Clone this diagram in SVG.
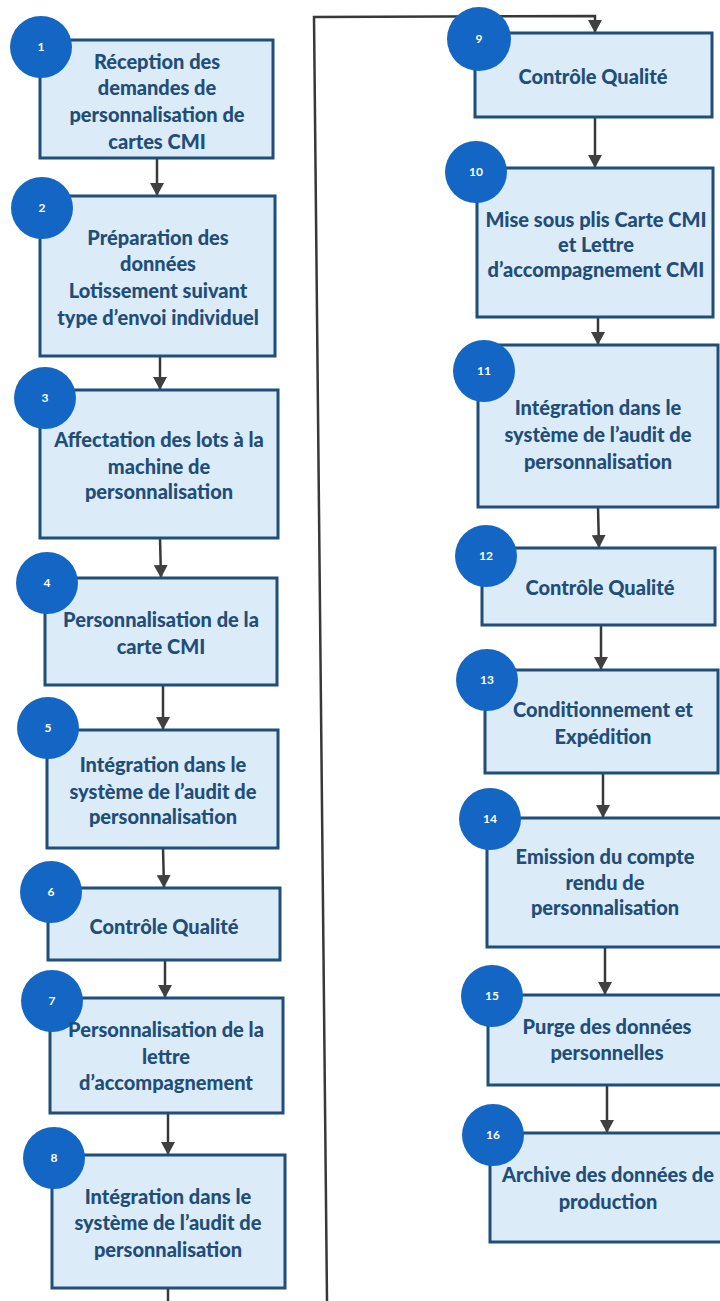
<svg xmlns="http://www.w3.org/2000/svg" width="720" height="1301" viewBox="0 0 720 1301">
<defs>
<marker id="ah" markerUnits="userSpaceOnUse" markerWidth="14" markerHeight="14" refX="13" refY="7" orient="auto" viewBox="0 0 14 14">
<path d="M0,0 L13,7 L0,14 Z" fill="#404040"/>
</marker>
</defs>
<style>
.box{fill:#dcebf8;stroke:#1f4e79;stroke-width:3}
.num{fill:#1366c4}
.nt{fill:#ffffff;font-family:Lato,"Open Sans",sans-serif;font-weight:bold;font-size:12px;text-anchor:middle}
.t{fill:#1f4e79;font-family:Lato,"Open Sans",sans-serif;font-weight:900;font-size:20px;text-anchor:middle}
.c{fill:none;stroke:#383838;stroke-width:2.5}
.ca{fill:none;stroke:#383838;stroke-width:2.5;marker-end:url(#ah)}
</style>
<rect width="720" height="1301" fill="#ffffff"/>
<g id="connectors">
<line class="ca" x1="157" y1="158" x2="157" y2="196"/>
<line class="ca" x1="160" y1="356" x2="160" y2="390"/>
<line class="ca" x1="160" y1="538" x2="161" y2="578"/>
<line class="ca" x1="163" y1="685" x2="163" y2="730"/>
<line class="ca" x1="163" y1="848" x2="164" y2="888"/>
<line class="ca" x1="165" y1="960" x2="165" y2="998"/>
<line class="ca" x1="168" y1="1113" x2="168" y2="1155"/>
<line class="c" x1="168" y1="1288" x2="168" y2="1301"/>
<polyline class="ca" points="327,1301 314,17 595,16 595,33"/>
<line class="ca" x1="595" y1="117" x2="595" y2="168"/>
<line class="ca" x1="598" y1="317" x2="598" y2="345"/>
<line class="ca" x1="598" y1="507" x2="599" y2="548"/>
<line class="ca" x1="601" y1="625" x2="601" y2="670"/>
<line class="ca" x1="603" y1="773" x2="603" y2="818"/>
<line class="ca" x1="605" y1="947" x2="605" y2="995"/>
<line class="ca" x1="607" y1="1085" x2="607" y2="1133"/>
</g>
<g id="n1">
<rect class="box" x="40" y="40" width="233" height="118"/>
<circle class="num" cx="41" cy="47" r="31"/>
<text class="nt" x="41" y="51">1</text>
<text class="t" x="157" y="69">Réception des</text>
<text class="t" x="157" y="95">demandes de</text>
<text class="t" x="157" y="122">personnalisation de</text>
<text class="t" x="157" y="149">cartes CMI</text>
</g>
<g id="n2">
<rect class="box" x="40" y="196" width="235" height="160"/>
<circle class="num" cx="42" cy="208" r="31"/>
<text class="nt" x="42" y="212">2</text>
<text class="t" x="158" y="245">Préparation des</text>
<text class="t" x="158" y="271">données</text>
<text class="t" x="158" y="298">Lotissement suivant</text>
<text class="t" x="158" y="325">type d’envoi individuel</text>
</g>
<g id="n3">
<rect class="box" x="40" y="390" width="238" height="148"/>
<circle class="num" cx="45" cy="398" r="31"/>
<text class="nt" x="45" y="402">3</text>
<text class="t" x="159" y="447">Affectation des lots à la</text>
<text class="t" x="159" y="474">machine de</text>
<text class="t" x="159" y="499">personnalisation</text>
</g>
<g id="n4">
<rect class="box" x="45" y="578" width="232" height="107"/>
<circle class="num" cx="47" cy="583" r="31"/>
<text class="nt" x="47" y="587">4</text>
<text class="t" x="161" y="627">Personnalisation de la</text>
<text class="t" x="161" y="654">carte CMI</text>
</g>
<g id="n5">
<rect class="box" x="47" y="730" width="231" height="118"/>
<circle class="num" cx="48" cy="728" r="31"/>
<text class="nt" x="48" y="732">5</text>
<text class="t" x="163" y="772">Intégration dans le</text>
<text class="t" x="163" y="799">système de l’audit de</text>
<text class="t" x="163" y="824">personnalisation</text>
</g>
<g id="n6">
<rect class="box" x="48" y="888" width="232" height="72"/>
<circle class="num" cx="51" cy="892" r="31"/>
<text class="nt" x="51" y="896">6</text>
<text class="t" x="164" y="934">Contrôle Qualité</text>
</g>
<g id="n7">
<rect class="box" x="50" y="998" width="233" height="115"/>
<circle class="num" cx="52" cy="1001" r="31"/>
<text class="nt" x="52" y="1005">7</text>
<text class="t" x="166" y="1037">Personnalisation de la</text>
<text class="t" x="166" y="1064">lettre</text>
<text class="t" x="166" y="1090">d’accompagnement</text>
</g>
<g id="n8">
<rect class="box" x="52" y="1155" width="233" height="133"/>
<circle class="num" cx="54" cy="1158" r="31"/>
<text class="nt" x="54" y="1162">8</text>
<text class="t" x="168" y="1204">Intégration dans le</text>
<text class="t" x="168" y="1230">système de l’audit de</text>
<text class="t" x="168" y="1257">personnalisation</text>
</g>
<g id="n9">
<rect class="box" x="475" y="33" width="237" height="84"/>
<circle class="num" cx="479" cy="39" r="32"/>
<text class="nt" x="479" y="43">9</text>
<text class="t" x="593" y="84">Contrôle Qualité</text>
</g>
<g id="n10">
<rect class="box" x="477" y="168" width="236" height="149"/>
<circle class="num" cx="476" cy="172" r="31"/>
<text class="nt" x="476" y="176">10</text>
<text class="t" x="596" y="227">Mise sous plis Carte CMI</text>
<text class="t" x="596" y="252">et Lettre</text>
<text class="t" x="596" y="277">d’accompagnement CMI</text>
</g>
<g id="n11">
<rect class="box" x="478" y="345" width="240" height="162"/>
<circle class="num" cx="484" cy="371" r="31"/>
<text class="nt" x="484" y="375">11</text>
<text class="t" x="598" y="415">Intégration dans le</text>
<text class="t" x="598" y="442">système de l’audit de</text>
<text class="t" x="598" y="469">personnalisation</text>
</g>
<g id="n12">
<rect class="box" x="482" y="548" width="233" height="77"/>
<circle class="num" cx="486" cy="556" r="31"/>
<text class="nt" x="486" y="560">12</text>
<text class="t" x="600" y="595">Contrôle Qualité</text>
</g>
<g id="n13">
<rect class="box" x="485" y="670" width="233" height="103"/>
<circle class="num" cx="487" cy="680" r="31"/>
<text class="nt" x="487" y="684">13</text>
<text class="t" x="603" y="717">Conditionnement et</text>
<text class="t" x="603" y="744">Expédition</text>
</g>
<g id="n14">
<rect class="box" x="487" y="818" width="236" height="129"/>
<circle class="num" cx="490" cy="819" r="31"/>
<text class="nt" x="490" y="823">14</text>
<text class="t" x="605" y="864">Emission du compte</text>
<text class="t" x="605" y="890">rendu de</text>
<text class="t" x="605" y="915">personnalisation</text>
</g>
<g id="n15">
<rect class="box" x="488" y="995" width="235" height="90"/>
<circle class="num" cx="492" cy="996" r="31"/>
<text class="nt" x="492" y="1000">15</text>
<text class="t" x="607" y="1034">Purge des données</text>
<text class="t" x="607" y="1060">personnelles</text>
</g>
<g id="n16">
<rect class="box" x="490" y="1133" width="233" height="109"/>
<circle class="num" cx="493" cy="1135" r="31"/>
<text class="nt" x="493" y="1139">16</text>
<text class="t" x="608" y="1182">Archive des données de</text>
<text class="t" x="608" y="1209">production</text>
</g>
</svg>
